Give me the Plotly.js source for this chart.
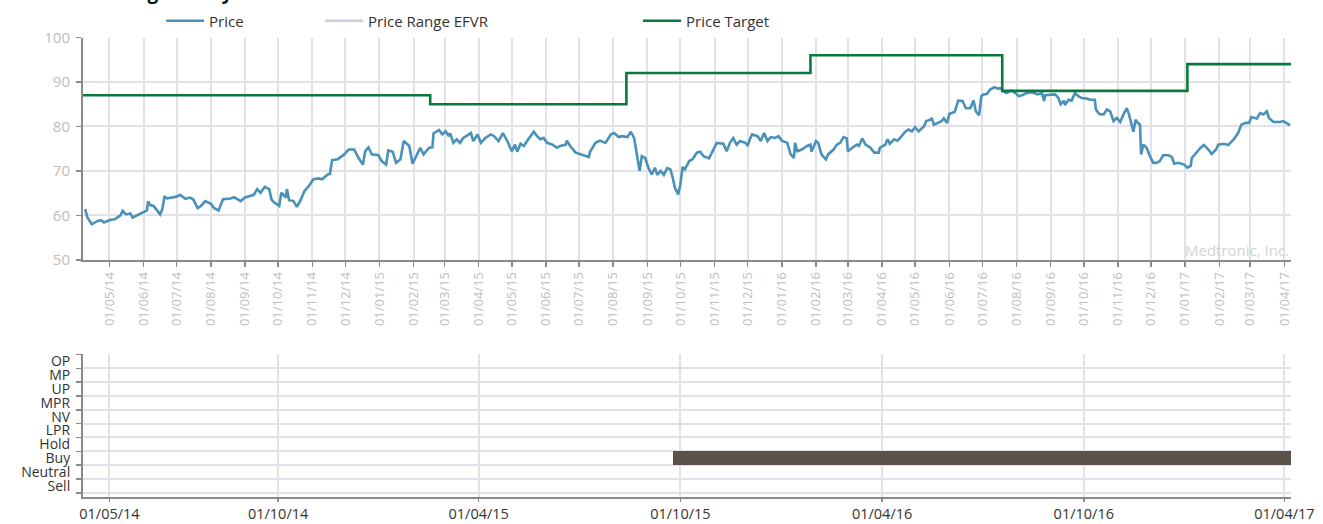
<!DOCTYPE html>
<html><head><meta charset="utf-8">
<script src="https://cdn.plot.ly/plotly-3.0.1.min.js"></script>
<style>html,body{margin:0;padding:0;background:#fff}#chart{width:1323px;height:524px}</style>
</head><body><div id="chart"></div>
<script>
const priceDates = ['2014-04-09','2014-04-11','2014-04-15','2014-04-20','2014-04-23','2014-04-26','2014-05-02','2014-05-06','2014-05-11','2014-05-13','2014-05-16','2014-05-20','2014-05-22','2014-05-26','2014-05-31','2014-06-04','2014-06-05','2014-06-07','2014-06-10','2014-06-13','2014-06-16','2014-06-18','2014-06-20','2014-06-22','2014-06-27','2014-07-01','2014-07-04','2014-07-09','2014-07-13','2014-07-16','2014-07-20','2014-07-23','2014-07-27','2014-08-01','2014-08-04','2014-08-08','2014-08-12','2014-08-19','2014-08-22','2014-08-28','2014-09-01','2014-09-09','2014-09-12','2014-09-15','2014-09-19','2014-09-23','2014-09-25','2014-09-27','2014-10-02','2014-10-04','2014-10-08','2014-10-09','2014-10-11','2014-10-15','2014-10-18','2014-10-21','2014-10-25','2014-10-29','2014-11-02','2014-11-07','2014-11-10','2014-11-15','2014-11-17','2014-11-19','2014-11-24','2014-11-30','2014-12-04','2014-12-09','2014-12-13','2014-12-17','2014-12-19','2014-12-22','2014-12-25','2014-12-31','2015-01-03','2015-01-07','2015-01-09','2015-01-13','2015-01-16','2015-01-20','2015-01-23','2015-01-28','2015-01-31','2015-02-04','2015-02-07','2015-02-10','2015-02-15','2015-02-18','2015-02-19','2015-02-24','2015-02-27','2015-03-02','2015-03-05','2015-03-06','2015-03-09','2015-03-12','2015-03-15','2015-03-18','2015-03-25','2015-03-27','2015-03-31','2015-04-03','2015-04-07','2015-04-12','2015-04-15','2015-04-19','2015-04-23','2015-04-27','2015-05-01','2015-05-04','2015-05-06','2015-05-09','2015-05-12','2015-05-16','2015-05-21','2015-05-24','2015-05-27','2015-05-30','2015-06-02','2015-06-07','2015-06-11','2015-06-14','2015-06-19','2015-06-20','2015-06-23','2015-06-28','2015-07-02','2015-07-07','2015-07-10','2015-07-11','2015-07-16','2015-07-20','2015-07-25','2015-07-30','2015-08-02','2015-08-06','2015-08-09','2015-08-14','2015-08-17','2015-08-20','2015-08-22','2015-08-25','2015-08-27','2015-08-30','2015-09-02','2015-09-05','2015-09-08','2015-09-10','2015-09-13','2015-09-16','2015-09-19','2015-09-22','2015-09-24','2015-09-26','2015-09-29','2015-10-01','2015-10-03','2015-10-05','2015-10-09','2015-10-12','2015-10-16','2015-10-19','2015-10-22','2015-10-27','2015-10-31','2015-11-03','2015-11-09','2015-11-12','2015-11-15','2015-11-18','2015-11-21','2015-11-24','2015-11-29','2015-12-01','2015-12-03','2015-12-05','2015-12-10','2015-12-13','2015-12-16','2015-12-19','2015-12-22','2015-12-26','2015-12-29','2016-01-01','2016-01-06','2016-01-09','2016-01-12','2016-01-13','2016-01-15','2016-01-19','2016-01-24','2016-01-27','2016-01-28','2016-02-01','2016-02-03','2016-02-06','2016-02-10','2016-02-12','2016-02-17','2016-02-20','2016-02-23','2016-02-26','2016-02-29','2016-03-01','2016-03-05','2016-03-09','2016-03-11','2016-03-14','2016-03-17','2016-03-21','2016-03-25','2016-03-29','2016-03-30','2016-04-04','2016-04-06','2016-04-08','2016-04-12','2016-04-15','2016-04-18','2016-04-22','2016-04-25','2016-04-28','2016-05-01','2016-05-04','2016-05-09','2016-05-11','2016-05-15','2016-05-16','2016-05-18','2016-05-22','2016-05-25','2016-05-27','2016-05-30','2016-06-01','2016-06-06','2016-06-09','2016-06-13','2016-06-16','2016-06-20','2016-06-23','2016-06-25','2016-06-28','2016-06-30','2016-07-02','2016-07-05','2016-07-08','2016-07-12','2016-07-15','2016-07-18','2016-07-20','2016-07-23','2016-07-26','2016-07-28','2016-07-31','2016-08-03','2016-08-06','2016-08-10','2016-08-15','2016-08-20','2016-08-24','2016-08-26','2016-08-27','2016-09-01','2016-09-05','2016-09-08','2016-09-10','2016-09-13','2016-09-14','2016-09-17','2016-09-20','2016-09-23','2016-09-26','2016-09-29','2016-10-03','2016-10-07','2016-10-11','2016-10-12','2016-10-15','2016-10-19','2016-10-22','2016-10-25','2016-10-28','2016-10-31','2016-11-03','2016-11-06','2016-11-09','2016-11-11','2016-11-13','2016-11-15','2016-11-17','2016-11-19','2016-11-21','2016-11-22','2016-11-24','2016-11-27','2016-11-30','2016-12-03','2016-12-06','2016-12-09','2016-12-12','2016-12-17','2016-12-20','2016-12-22','2016-12-26','2016-12-31','2017-01-03','2017-01-06','2017-01-07','2017-01-12','2017-01-15','2017-01-18','2017-01-22','2017-01-25','2017-01-29','2017-01-31','2017-02-05','2017-02-09','2017-02-14','2017-02-18','2017-02-21','2017-02-25','2017-02-28','2017-03-02','2017-03-07','2017-03-10','2017-03-13','2017-03-16','2017-03-18','2017-03-22','2017-03-28','2017-03-31','2017-04-03','2017-04-06'];
const priceValues = [61.4,59.5,58.0,58.7,58.9,58.4,59.0,59.1,60.0,61.0,60.2,60.4,59.5,60.0,60.6,61.1,63.1,62.3,62.1,61.0,60.2,61.4,64.3,63.8,64.1,64.2,64.6,63.7,64.0,63.6,61.6,62.1,63.2,62.6,61.6,61.1,63.6,63.8,64.1,63.2,64.0,64.6,65.9,65.1,66.4,65.9,63.6,63.0,62.1,65.1,64.0,65.9,63.4,63.2,61.9,63.2,65.5,66.6,68.1,68.3,68.1,69.2,69.3,72.4,72.6,73.7,74.8,74.8,72.9,71.4,74.4,75.3,73.7,73.5,72.2,71.4,74.6,74.3,71.8,72.6,76.7,75.6,71.6,73.7,75.2,73.7,75.2,75.3,78.4,79.2,78.2,78.9,77.8,78.5,76.3,77.1,76.3,77.4,78.5,76.7,78.2,76.3,77.4,78.2,77.8,76.7,78.5,76.7,74.4,75.9,74.3,76.1,75.6,77.1,78.8,77.8,77.1,77.4,76.3,75.9,75.2,75.6,75.9,76.8,75.6,74.1,73.8,73.5,73.1,74.3,76.3,76.8,76.3,78.2,78.5,77.6,77.8,77.6,78.8,77.4,74.1,70.0,73.3,72.9,70.7,69.2,70.7,69.1,70.0,69.1,70.6,70.3,68.5,66.2,64.7,67.0,70.9,70.3,72.2,72.6,74.1,74.3,73.3,72.8,74.8,76.3,76.1,74.4,76.3,77.4,75.9,76.7,76.3,75.6,77.1,78.2,77.8,76.7,78.5,76.7,77.6,77.4,77.8,76.8,76.3,73.7,72.9,76.3,74.4,74.8,75.6,75.9,74.3,76.7,76.3,73.7,72.6,73.7,74.8,75.9,76.3,77.6,77.3,74.4,75.2,75.9,75.6,77.3,75.9,75.3,74.1,74.1,75.2,75.9,77.1,76.1,77.1,76.8,77.6,78.8,79.3,78.9,79.8,78.9,80.0,81.2,81.5,81.9,80.4,80.8,81.2,81.8,80.8,82.8,83.3,85.8,85.7,84.1,84.1,85.8,83.4,82.5,86.8,87.2,87.3,88.3,88.8,88.5,88.6,87.9,87.5,88.0,88.0,87.5,86.8,87.0,87.5,87.7,87.2,87.5,85.7,87.0,87.2,87.2,86.4,85.0,85.8,84.8,86.0,85.8,87.5,86.8,86.4,86.3,86.0,86.0,83.8,82.8,82.7,83.8,83.4,81.2,81.9,81.0,82.7,84.1,82.7,80.4,78.8,81.5,80.8,80.4,73.7,75.9,75.2,73.3,71.8,71.8,72.2,73.5,73.5,73.1,71.6,71.8,71.4,70.7,71.1,72.9,74.4,75.2,75.8,74.8,73.8,74.8,75.9,76.1,75.8,77.1,78.5,80.4,80.8,80.8,82.1,81.8,83.0,82.7,83.4,81.9,81.0,81.0,81.2,80.8,80.3];
const targetDates = ['2014-04-07','2015-02-16','2015-08-13','2016-01-27','2016-07-19','2017-01-03','2017-04-07'];
const targetValues = [87,85,92,96,88,94,94];
const ratingCategories = ['Sell','Neutral','Buy','Hold','LPR','NV','MPR','UP','MP','OP'];
const ratingStarts = ['2015-09-24'];
const ratingEnds = ['2017-04-07'];
const ratingLevels = ['Buy'];
const bottomTickDates = ['2014-05-01','2014-10-01','2015-04-01','2015-10-01','2016-04-01','2016-10-01','2017-04-01'];
const xRange = ['2014-04-07','2017-04-07'];

const FONT = 'Open Sans, Noto Sans, sans-serif';
const GRID = '#e1e1e7';
const AXIS = '#8a8a8a';
const LABEL = '#bdbdbd';

const traces = [
  {type:'scatter', mode:'lines', name:'Price', x:priceDates, y:priceValues,
   line:{color:'#4a91b9', width:2.6}, legend:'legend', hoverinfo:'x+y'},
  {type:'scatter', mode:'lines', name:'Price Range EFVR', x:[null], y:[null],
   line:{color:'#c6cede', width:2.5}, legend:'legend2'},
  {type:'scatter', mode:'lines', name:'Price Target', x:targetDates, y:targetValues,
   line:{color:'#0a7a3c', width:2.6, shape:'hv'}, legend:'legend3'},
  {type:'bar', orientation:'h', y:ratingLevels, base:ratingStarts,
   x:ratingStarts.map((s,i)=> new Date(ratingEnds[i]) - new Date(s)),
   xaxis:'x2', yaxis:'y2', width:1, marker:{color:'#5b5249', line:{width:0}},
   showlegend:false, hoverinfo:'skip'}
];

const legendBase = {orientation:'h', xref:'container', yref:'container', yanchor:'middle', xanchor:'left',
  y:1-21/524, font:{family:FONT, size:15, color:'#333'}, itemwidth:38, bgcolor:'rgba(0,0,0,0)', borderwidth:0,
  tracegroupgap:0, itemclick:false, itemdoubleclick:false};

const layout = {
  width:1323, height:524,
  margin:{l:83, r:32, t:36, b:27},
  paper_bgcolor:'#fff', plot_bgcolor:'#fff',
  font:{family:FONT},
  showlegend:true,
  legend: Object.assign({}, legendBase, {x:161/1323}),
  legend2: Object.assign({}, legendBase, {x:320/1323}),
  legend3: Object.assign({}, legendBase, {x:638/1323}),
  xaxis:{type:'date', domain:[0,1], anchor:'y', range:xRange,
    tick0:'2014-05-01', dtick:'M1', tickformat:'%d/%m/%y', tickangle:-90,
    tickfont:{family:FONT, size:13, color:LABEL},
    showgrid:true, gridcolor:GRID, gridwidth:2,
    showline:true, linecolor:AXIS, linewidth:2,
    ticks:'outside', ticklen:5, tickcolor:AXIS, tickwidth:1.5, zeroline:false},
  yaxis:{domain:[0.5163,1], anchor:'x', range:[50,100], dtick:10, tick0:50,
    tickfont:{family:FONT, size:15, color:LABEL},
    showgrid:true, gridcolor:GRID, gridwidth:2,
    showline:true, linecolor:AXIS, linewidth:2,
    ticks:'outside', ticklen:5, tickcolor:AXIS, tickwidth:1.5, zeroline:false,
    ticklabelstandoff:3},
  xaxis2:{type:'date', domain:[0,1], anchor:'y2', range:xRange,
    tickvals:bottomTickDates, tickformat:'%d/%m/%y', tickangle:0,
    tickfont:{family:FONT, size:14.5, color:'#333'},
    showgrid:true, gridcolor:GRID, gridwidth:2,
    showline:true, linecolor:AXIS, linewidth:2,
    ticks:'outside', ticklen:3, tickcolor:AXIS, tickwidth:1.5, zeroline:false},
  yaxis2:{domain:[0,0.3102], anchor:'x2', type:'category',
    categoryorder:'array', categoryarray:ratingCategories, range:[-0.8,9.5],
    tickmode:'array', tickvals:ratingCategories, ticktext:ratingCategories,
    tickson:'boundaries', tickfont:{family:FONT, size:14, color:'#333'},
    showgrid:true, gridcolor:GRID, gridwidth:2,
    showline:true, linecolor:AXIS, linewidth:2,
    ticks:'outside', ticklen:5, tickcolor:AXIS, tickwidth:1.5, zeroline:false,
    ticklabelstandoff:8},
  annotations:[
    {text:'Medtronic, Inc.', xref:'x domain', yref:'y domain', x:1, y:0, xanchor:'right', yanchor:'bottom',
     showarrow:false, font:{family:FONT, size:15, color:'#d2d2d2'}, yshift:-2},
    {text:'<b>Rating History</b>', xref:'paper', yref:'paper', x:12/1208, y:1+36/461, xanchor:'left', yanchor:'bottom',
     showarrow:false, font:{family:FONT, size:19, color:'#111'}, yshift:-5}
  ],
  bargap:0
};

Plotly.newPlot('chart', traces, layout, {displayModeBar:false, staticPlot:true});
</script>
</body></html>
